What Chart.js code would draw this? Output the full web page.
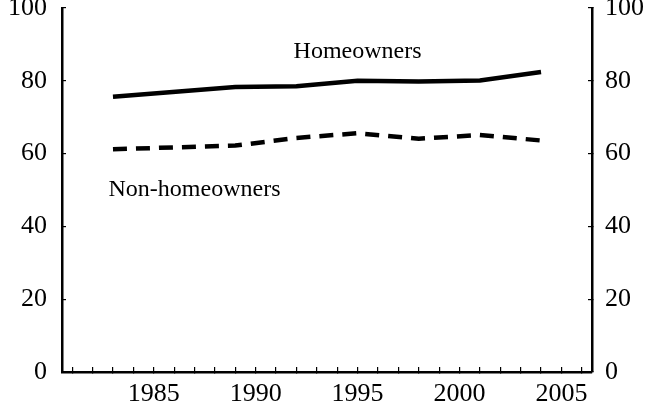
<!DOCTYPE html>
<html>
<head>
<meta charset="utf-8">
<script src="https://cdn.jsdelivr.net/npm/chart.js@4"></script>
<style>
  html, body { margin: 0; padding: 0; background: #fff; }
  #wrap { width: 653px; height: 404px; }
</style>
</head>
<body>
<div id="wrap"><canvas id="chart"></canvas></div>
<script>
// ---- DATA ----
const years = [1983, 1989, 1992, 1995, 1998, 2001, 2004];
const homeowners = [75.6, 78.3, 78.5, 80.0, 79.8, 80.1, 82.4];
const nonHomeowners = [61.2, 62.2, 64.3, 65.6, 64.1, 65.1, 63.6];

// x axis: one tick mark per year, label every fifth
const X_FIRST_TICK = 1981;
const X_LAST_TICK = 2006;

// series labels written inside the plot, at data coordinates
const seriesLabels = [
    { text: 'Homeowners', x: 1995, y: 88 },
    { text: 'Non-homeowners', x: 1987, y: 50 }
];

const SERIF = "'Liberation Serif', 'Times New Roman', serif";

function toPoints(xs, ys) {
    return xs.map((x, i) => ({ x, y: ys[i] }));
}

// draws the two in-plot series labels
const seriesLabelPlugin = {
    id: 'seriesLabels',
    afterDatasetsDraw(chart) {
        const { ctx, scales } = chart;
        ctx.save();
        ctx.fillStyle = '#000';
        ctx.font = '24px ' + SERIF;
        ctx.textAlign = 'center';
        ctx.textBaseline = 'middle';
        seriesLabels.forEach(l => {
            ctx.fillText(l.text, scales.x.getPixelForValue(l.x), scales.y.getPixelForValue(l.y));
        });
        ctx.restore();
    }
};

const tickFont = { family: SERIF, size: 26 };

function yAxis(position, width, pad) {
    return {
        type: 'linear',
        position,
        min: 0,
        max: 100,
        ticks: { stepSize: 20, color: '#000', font: tickFont, padding: pad },
        grid: { drawOnChartArea: false, color: '#000', lineWidth: 1.2, tickLength: -4 },
        border: { color: '#000', width: 2.5 },
        afterFit: s => { s.width = width; s.paddingTop = 0; s.paddingBottom = 0; }
    };
}

new Chart(document.getElementById('chart'), {
    type: 'line',
    data: {
        datasets: [
            {
                label: 'Homeowners',
                data: toPoints(years, homeowners),
                borderColor: '#000',
                borderWidth: 4.5,
                pointRadius: 0,
                tension: 0,
                yAxisID: 'y'
            },
            {
                label: 'Non-homeowners',
                data: toPoints(years, nonHomeowners),
                borderColor: '#000',
                borderWidth: 4.5,
                borderDash: [14, 9],
                pointRadius: 0,
                tension: 0,
                yAxisID: 'y'
            }
        ]
    },
    options: {
        responsive: true,
        maintainAspectRatio: false,
        animation: false,
        layout: { padding: { top: 8, left: 0, right: 0, bottom: 0 } },
        plugins: {
            legend: { display: false },
            tooltip: { enabled: false }
        },
        scales: {
            x: {
                type: 'linear',
                position: 'bottom',
                min: 1980.5,
                max: 2006.5,
                afterBuildTicks: s => {
                    const t = [];
                    for (let v = X_FIRST_TICK; v <= X_LAST_TICK; v++) t.push({ value: v });
                    s.ticks = t;
                },
                ticks: {
                    autoSkip: false,
                    maxRotation: 0,
                    color: '#000',
                    font: tickFont,
                    padding: 12,
                    callback: v => (v % 5 === 0 ? String(v) : '')
                },
                grid: { drawOnChartArea: false, color: '#000', lineWidth: 1.2, tickLength: -5 },
                border: { color: '#000', width: 2.5 },
                afterFit: s => { s.height = 32; s.paddingLeft = 0; s.paddingRight = 0; }
            },
            y: yAxis('left', 62, 19),
            y1: yAxis('right', 61, 17)
        }
    },
    plugins: [seriesLabelPlugin]
});
</script>
</body>
</html>
